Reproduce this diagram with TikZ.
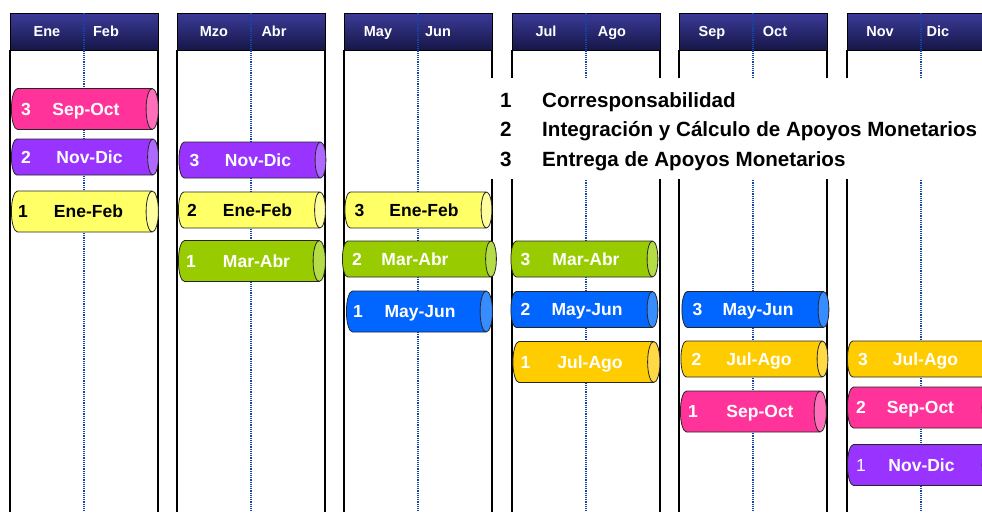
\documentclass[tikz,border=0pt]{standalone}
\usepackage{fontspec}
\setmainfont{Liberation Sans}
\usepackage{xcolor}
\usetikzlibrary{shapes.geometric}

\definecolor{hdtop}{RGB}{58,58,152}
\definecolor{hdbot}{RGB}{22,22,70}
\definecolor{dotblue}{RGB}{20,70,170}
\definecolor{pinkbody}{RGB}{255,51,153}
\definecolor{pinkend}{RGB}{255,110,185}
\definecolor{purplebody}{RGB}{153,51,255}
\definecolor{purpleend}{RGB}{175,105,255}
\definecolor{yellowbody}{RGB}{255,255,102}
\definecolor{yellowend}{RGB}{255,255,160}
\definecolor{greenbody}{RGB}{153,204,0}
\definecolor{greenend}{RGB}{180,220,70}
\definecolor{bluebody}{RGB}{0,102,255}
\definecolor{blueend}{RGB}{55,140,255}
\definecolor{goldbody}{RGB}{255,204,0}
\definecolor{goldend}{RGB}{255,218,70}

\tikzset{
  header/.style={draw=black, line width=0.8pt, top color=hdtop, bottom color=hdbot,
    minimum width=148pt, minimum height=37pt, anchor=north west, inner sep=0pt},
  month/.style={text=white, font=\bfseries\fontsize{14.5}{16}\selectfont, inner sep=0pt,
    text height=10.5pt, text depth=0pt},
  frame/.style={black, line width=1.2pt},
  midline/.style={draw=dotblue, line width=1.2pt, dash pattern=on 1.2pt off 1pt},
  bar/.style={cylinder, shape border rotate=0, draw=black!85, line width=0.8pt, aspect=0.3,
    minimum height=147pt, inner xsep=0pt, cylinder uses custom fill, anchor=west},
  short/.style={inner ysep=18pt},
  tall/.style={inner ysep=20.5pt},
  pinkbar/.style={cylinder body fill=pinkbody, cylinder end fill=pinkend},
  purplebar/.style={cylinder body fill=purplebody, cylinder end fill=purpleend},
  yellowbar/.style={cylinder body fill=yellowbody, cylinder end fill=yellowend},
  greenbar/.style={cylinder body fill=greenbody, cylinder end fill=greenend},
  bluebar/.style={cylinder body fill=bluebody, cylinder end fill=blueend},
  goldbar/.style={cylinder body fill=goldbody, cylinder end fill=goldend},
  num/.style={text=white, font=\bfseries\fontsize{17.5}{20}\selectfont, inner sep=0pt,
    text height=12.5pt, text depth=0pt},
  period/.style={text=white, font=\bfseries\fontsize{17.5}{20}\selectfont, inner sep=0pt,
    text height=12.5pt, text depth=0pt},
  legend/.style={font=\bfseries\fontsize{20.6}{24}\selectfont, anchor=west, inner sep=0pt,
    text height=14.7pt, text depth=0pt}
}

\begin{document}
\begin{tikzpicture}[x=1pt,y=-1pt]
\clip (0,0) rectangle (982,512);
\fill[white] (0,0) rectangle (982,512);

% panels
\node[header] (h1) at (10,13) {};
\node[header] (h2) at (177,13) {};
\node[header] (h3) at (344,13) {};
\node[header] (h4) at (512,13) {};
\node[header] (h5) at (679,13) {};
\node[header] (h6) at (847,13) {};
\draw[frame] (10,50) -- (10,512);
\draw[frame] (158,50) -- (158,512);
\draw[frame] (177,50) -- (177,512);
\draw[frame] (325,50) -- (325,512);
\draw[frame] (344,50) -- (344,512);
\draw[frame] (492,50) -- (492,512);
\draw[frame] (512,50) -- (512,512);
\draw[frame] (660,50) -- (660,512);
\draw[frame] (679,50) -- (679,512);
\draw[frame] (827,50) -- (827,512);
\draw[frame] (847,50) -- (847,512);
\draw[midline] (84,13) -- (84,512);
\draw[midline] (251,13) -- (251,512);
\draw[midline] (418,13) -- (418,512);
\draw[midline] (586,13) -- (586,512);
\draw[midline] (753,13) -- (753,512);
\draw[midline] (921,13) -- (921,512);

% months
\node[month] (ene) at (47,31.5) {Ene};
\node[month] (feb) at (106,31.5) {Feb};
\node[month] (mzo) at (214,31.5) {Mzo};
\node[month] (abr) at (274,31.5) {Abr};
\node[month] (may) at (378,31.5) {May};
\node[month] (jun) at (438,31.5) {Jun};
\node[month] (jul) at (546,31.5) {Jul};
\node[month] (ago) at (612,31.5) {Ago};
\node[month] (sep) at (712,31.5) {Sep};
\node[month] (oct) at (775,31.5) {Oct};
\node[month] (nov) at (880,31.5) {Nov};
\node[month] (dic) at (938,31.5) {Dic};

% legend
\fill[white] (480,78) rectangle (982,179);
\node[legend] (l1) at (500,100) {1};
\node[legend] (t1) at (542,100) {Corresponsabilidad};
\node[legend] (l2) at (500,129.5) {2};
\node[legend] (t2) at (542,129.5) {Integración y Cálculo de Apoyos Monetarios};
\node[legend] (l3) at (500,159) {3};
\node[legend] (t3) at (542,159) {Entrega de Apoyos Monetarios};

% bars, panel Ene-Feb
\node[bar, tall, pinkbar] (p1a) at (11,109) {};
\node[num] at ([xshift=15pt]p1a.west) {3};
\node[period] at ([xshift=75pt]p1a.west) {Sep-Oct};
\node[bar, short, purplebar] (p1b) at (11,157) {};
\node[num] at ([xshift=15pt]p1b.west) {2};
\node[period] at ([xshift=78.5pt]p1b.west) {Nov-Dic};
\node[bar, tall, yellowbar] (p1c) at (11,211.5) {};
\node[num, text=black] at ([xshift=12pt]p1c.west) {1};
\node[period, text=black] at ([xshift=77.5pt]p1c.west) {Ene-Feb};

% panel Mzo-Abr
\node[bar, short, purplebar] (p2a) at (178.5,160) {};
\node[num] at ([xshift=16pt]p2a.west) {3};
\node[period] at ([xshift=79.5pt]p2a.west) {Nov-Dic};
\node[bar, short, yellowbar] (p2b) at (178,210) {};
\node[num, text=black] at ([xshift=14pt]p2b.west) {2};
\node[period, text=black] at ([xshift=79.5pt]p2b.west) {Ene-Feb};
\node[bar, tall, greenbar] (p2c) at (178,261) {};
\node[num] at ([xshift=13pt]p2c.west) {1};
\node[period] at ([xshift=78.5pt]p2c.west) {Mar-Abr};

% panel May-Jun
\node[bar, short, yellowbar] (p3a) at (344.5,210) {};
\node[num, text=black] at ([xshift=15pt]p3a.west) {3};
\node[period, text=black] at ([xshift=79.5pt]p3a.west) {Ene-Feb};
\node[bar, short, greenbar, minimum height=154pt] (p3b) at (342,259) {};
\node[num] at ([xshift=15pt]p3b.west) {2};
\node[period] at ([xshift=73pt]p3b.west) {Mar-Abr};
\node[bar, tall, bluebar, minimum height=146pt] (p3c) at (346,311.5) {};
\node[num] at ([xshift=12pt]p3c.west) {1};
\node[period] at ([xshift=74pt]p3c.west) {May-Jun};

% panel Jul-Ago
\node[bar, short, greenbar] (p4a) at (510.5,259) {};
\node[num] at ([xshift=15pt]p4a.west) {3};
\node[period] at ([xshift=75.5pt]p4a.west) {Mar-Abr};
\node[bar, short, bluebar] (p4b) at (510.5,309.5) {};
\node[num] at ([xshift=15pt]p4b.west) {2};
\node[period] at ([xshift=76.5pt]p4b.west) {May-Jun};
\node[bar, tall, goldbar] (p4c) at (512.5,362) {};
\node[num] at ([xshift=13pt]p4c.west) {1};
\node[period] at ([xshift=77.5pt]p4c.west) {Jul-Ago};

% panel Sep-Oct
\node[bar, short, bluebar] (p5a) at (681.5,309.5) {};
\node[num] at ([xshift=16pt]p5a.west) {3};
\node[period] at ([xshift=76.5pt]p5a.west) {May-Jun};
\node[bar, short, goldbar] (p5b) at (680.5,359) {};
\node[num] at ([xshift=16pt]p5b.west) {2};
\node[period] at ([xshift=78.5pt]p5b.west) {Jul-Ago};
\node[bar, tall, pinkbar, minimum height=146pt] (p5c) at (680,411.5) {};
\node[num] at ([xshift=13pt]p5c.west) {1};
\node[period] at ([xshift=80pt]p5c.west) {Sep-Oct};

% panel Nov-Dic
\node[bar, short, goldbar] (p6a) at (847,359) {};
\node[num] at ([xshift=16pt]p6a.west) {3};
\node[period] at ([xshift=78.5pt]p6a.west) {Jul-Ago};
\node[bar, tall, pinkbar] (p6b) at (847,407.5) {};
\node[num] at ([xshift=14pt]p6b.west) {2};
\node[period] at ([xshift=73.5pt]p6b.west) {Sep-Oct};
\node[bar, tall, purplebar] (p6c) at (847,465) {};
\node[num, font=\fontsize{17.5}{20}\selectfont] at ([xshift=14pt]p6c.west) {1};
\node[period] at ([xshift=74.5pt]p6c.west) {Nov-Dic};
\end{tikzpicture}
\end{document}
